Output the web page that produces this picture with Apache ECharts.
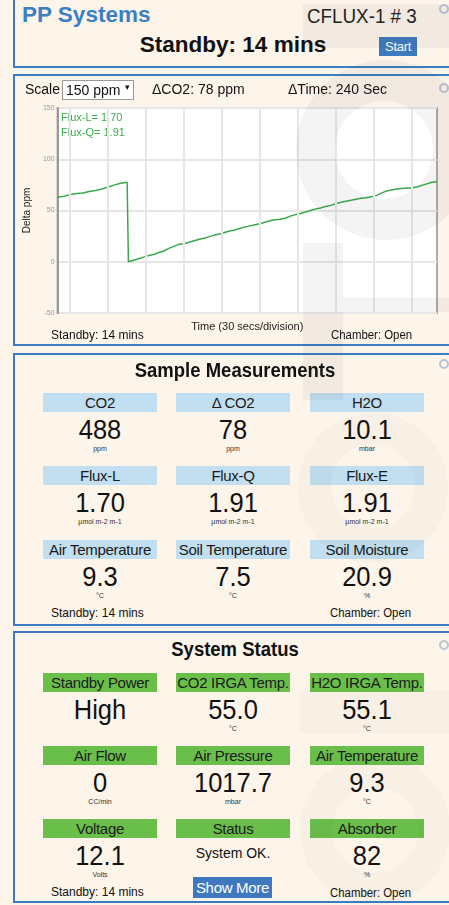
<!DOCTYPE html>
<html>
<head>
<meta charset="utf-8">
<script src="https://cdn.jsdelivr.net/npm/echarts@6.0.0/dist/echarts.min.js"></script>
<style>
  body { margin: 0; width: 449px; height: 905px; overflow: hidden; position: relative;
         background: #fdf4ea; font-family: "Liberation Sans", Arial, sans-serif; color: #111; }
  .panel { position: absolute; left: 13px; width: 470px; border: 2px solid #3d7cc4; box-sizing: border-box; }
  .t { position: absolute; white-space: nowrap; line-height: 1; }
  .ring { position: absolute; width: 6px; height: 6px; border: 2px solid #b9c6d3; border-radius: 50%; }
  .lbl { position: absolute; width: 114px; height: 19px; line-height: 20px; text-align: center; font-size: 15px;
         color: #1a1a1a; white-space: nowrap; letter-spacing: -0.3px; overflow: visible; }
  .btn { position: absolute; background: #3e79bf; color: #fff; text-align: center; white-space: nowrap; }
  #chart { position: absolute; left: 14px; top: 96px; width: 435px; height: 245px; }
  #wm { position: absolute; left: 0; top: 0; pointer-events: none; z-index: 5; }
</style>
</head>
<body>
<div class="panel" style="top:-2px;height:70px"></div>
<div class="panel" style="top:74px;height:272px"></div>
<div class="panel" style="top:353px;height:273px"></div>
<div class="panel" style="top:631px;height:272px"></div>
<div id="chart"></div>
<svg id="wm" width="449" height="905">
  <g fill="rgba(60,60,60,0.06)">
    <rect x="303" y="4" width="146" height="44"/>
    <path fill-rule="evenodd" d="M296 150a90 90 0 1 0 180 0a90 90 0 1 0 -180 0Z M335 150a49 49 0 1 0 98 0a49 49 0 1 0 -98 0Z"/>
    <rect x="303" y="243" width="40" height="157"/>
    <rect x="343" y="298" width="106" height="14"/>
  </g>
  <g fill="rgba(60,60,60,0.025)">
    <path fill-rule="evenodd" d="M298 488a75 75 0 1 0 150 0a75 75 0 1 0 -150 0Z M331 486a42 42 0 1 0 84 0a42 42 0 1 0 -84 0Z"/>
    <rect x="300" y="690" width="149" height="43"/>
    <path fill-rule="evenodd" d="M300 830a75 75 0 1 0 150 0a75 75 0 1 0 -150 0Z M332 830a43 43 0 1 0 86 0a43 43 0 1 0 -86 0Z"/>
  </g>
</svg>
<script>
// 曲线数据（秒 / ppm）
const timeSec = [0, 5, 10, 15, 20, 25, 30, 35, 40, 45, 50, 55, 56,
  60, 64, 68, 72, 76, 80, 84, 88, 92, 96, 100, 104, 108, 112, 116, 120, 124, 128, 132, 136, 140,
  144, 148, 152, 156, 160, 164, 168, 172, 176, 180, 184, 188, 192, 196, 200, 204, 208, 212, 216,
  220, 224, 228, 232, 236, 240, 244, 248, 252, 256, 260, 264, 268, 272, 276, 280, 284, 288, 292, 296, 300];
const deltaPpm = [63, 64, 65.5, 66.5, 67, 68.5, 69.5, 71, 73, 75, 76.5, 77.5, 0,
  1.5, 3, 4.5, 6, 7, 9, 10.5, 13, 15, 17, 17.5, 19, 20.5, 22, 23, 24.5, 26, 27, 28.5, 30, 31,
  32.5, 34, 35, 36, 37, 38.5, 40, 41, 41.5, 42.5, 44.5, 46, 47, 48.5, 50, 51.5, 52.5, 54, 55,
  56.5, 58, 59, 60, 61, 62, 62.5, 63.5, 64.5, 67, 69, 70, 71, 71.5, 72, 72, 73, 74.5, 76, 77.5, 78];
const divisionTimes = [10, 40, 70, 100, 130, 160, 190, 220, 250, 280]; // 30 秒分格
const yTicks = [-50, 0, 50, 100, 150];
const fluxText = ['Flux-L= 1.70', 'Flux-Q= 1.91'];

// 面板数据
const sampleLabels = ['CO2', 'Δ CO2', 'H2O', 'Flux-L', 'Flux-Q', 'Flux-E', 'Air Temperature', 'Soil Temperature', 'Soil Moisture'];
const sampleValues = ['488', '78', '10.1', '1.70', '1.91', '1.91', '9.3', '7.5', '20.9'];
const sampleUnits = ['ppm', 'ppm', 'mbar', 'µmol m-2 m-1', 'µmol m-2 m-1', 'µmol m-2 m-1', '°C', '°C', '%'];
const statusLabels = ['Standby Power', 'CO2 IRGA Temp.', 'H2O IRGA Temp.', 'Air Flow', 'Air Pressure', 'Air Temperature', 'Voltage', 'Status', 'Absorber'];
const statusValues = ['High', '55.0', '55.1', '0', '1017.7', '9.3', '12.1', 'System OK.', '82'];
const statusUnits = ['', '°C', '°C', 'CC/min', 'mbar', '°C', 'Volts', '', '%'];

// 文本放置
function text(str, x, y, css, align, extra) {
  const el = document.createElement('div');
  el.className = 't';
  el.textContent = str;
  el.style.cssText += css || '';
  el.style.left = x + 'px';
  el.style.top = y + 'px';
  el.style.transformOrigin = align === 'left' ? 'left center' : 'center center';
  el.style.transform = (align === 'left' ? 'translate(0,-50%) ' : 'translate(-50%,-50%) ') + (extra || '');
  document.body.appendChild(el);
  return el;
}
function ring(x, y) {
  const el = document.createElement('div');
  el.className = 'ring';
  el.style.left = (x - 5) + 'px';
  el.style.top = (y - 5) + 'px';
  document.body.appendChild(el);
}
function box(cls, x, y, w, h, css) {
  const el = document.createElement('div');
  el.className = cls;
  el.style.cssText = `left:${x}px;top:${y}px;width:${w}px;height:${h}px;` + (css || '');
  document.body.appendChild(el);
  return el;
}

// 顶部
text('PP Systems', 22, 15, 'font-size:22.5px;font-weight:bold;color:#3b7fc4', 'left');
text('CFLUX-1 # 3', 307, 16, 'font-size:20px;color:#222', 'left', 'scaleX(0.94)');
text('Standby: 14 mins', 233, 45, 'font-size:22.5px;font-weight:bold');
const start = box('btn', 379, 37, 38, 19, 'font-size:13px;line-height:19px;letter-spacing:-0.3px');
start.textContent = 'Start';
ring(444, 9);

// 图表面板头部
text('Scale', 25, 89, 'font-size:14px', 'left');
box('t', 62, 80, 70, 18, 'background:#fff;border:1px solid #999');
text('150 ppm', 66, 90, 'font-size:14px', 'left');
text('▾', 127, 87, 'font-size:9px');
text('ΔCO2: 78 ppm', 152, 89, 'font-size:14px', 'left');
text('ΔTime: 240 Sec', 288, 89, 'font-size:14px', 'left');
ring(444, 88);
text('Standby: 14 mins', 51, 335, 'font-size:12px', 'left');
text('Chamber: Open', 331, 335, 'font-size:12px', 'left', 'scaleX(0.95)');

// 数据格
const colX = [43, 176, 310];
function grid(labels, values, units, rowY, color) {
  labels.forEach((l, i) => {
    const c = i % 3, r = Math.floor(i / 3);
    const x = colX[c], y = rowY[r];
    const lb = box('lbl', x, y, 114, 19, 'background:' + color);
    lb.textContent = l;
    const small = values[i] === 'System OK.';
    text(values[i], x + 57, y + (small ? 34 : 37), small ? 'font-size:14px' : 'font-size:25.5px', 'center', 'scaleY(1.05)');
    if (units[i]) text(units[i], x + 57, y + 55, 'font-size:7px;color:#333');
  });
}

ring(444, 364);
text('Sample Measurements', 235, 371, 'font-size:18.5px;font-weight:bold', 'center', 'scaleY(1.12)');
grid(sampleLabels, sampleValues, sampleUnits, [393, 466, 540], '#c1dff0');
text('Standby: 14 mins', 51, 613, 'font-size:12px', 'left');
text('Chamber: Open', 330, 613, 'font-size:12px', 'left', 'scaleX(0.95)');

ring(444, 645);
text('System Status', 235, 650, 'font-size:18.5px;font-weight:bold', 'center', 'scaleY(1.12)');
grid(statusLabels, statusValues, statusUnits, [673, 746, 819], '#6abf4b');
const more = box('btn', 193, 877, 79, 21, 'font-size:15px;line-height:21px;letter-spacing:-0.3px');
more.textContent = 'Show More';
text('Standby: 14 mins', 51, 892, 'font-size:12px', 'left');
text('Chamber: Open', 330, 893, 'font-size:12px', 'left', 'scaleX(0.95)');

// 图表
const chart = echarts.init(document.getElementById('chart'));
chart.setOption({
  animation: false,
  grid: { left: 40, top: 12, width: 383, height: 205, show: true, backgroundColor: '#fff', borderColor: '#aaa', borderWidth: 2 },
  xAxis: {
    type: 'value', min: 0, max: 300,
    name: 'Time (30 secs/division)', nameLocation: 'middle', nameGap: 8,
    nameTextStyle: { fontSize: 11, color: '#222', fontFamily: 'Liberation Sans' },
    axisLine: { show: false }, axisTick: { show: false }, axisLabel: { show: false }, splitLine: { show: false }
  },
  yAxis: {
    type: 'value', min: yTicks[0], max: yTicks[yTicks.length - 1], interval: 50,
    name: 'Delta ppm', nameLocation: 'middle', nameGap: 11, nameRotate: 90,
    nameTextStyle: { fontSize: 10, color: '#222', fontFamily: 'Liberation Sans' },
    axisLine: { show: true, lineStyle: { color: '#999', width: 2 } },
    axisTick: { show: false },
    axisLabel: { fontSize: 7, color: '#999', margin: 3, fontFamily: 'Liberation Sans' },
    splitLine: { lineStyle: { color: '#e6e6e6', width: 2 } }
  },
  graphic: fluxText.map((s, i) => ({
    type: 'text', left: 47, top: 16 + i * 15,
    style: { text: s, fill: '#3aad4a', fontSize: 11, fontFamily: 'Liberation Sans' }
  })),
  series: [{
    type: 'line',
    data: timeSec.map((t, i) => [t, deltaPpm[i]]),
    showSymbol: false,
    lineStyle: { color: '#3aa84a', width: 1.5 },
    markLine: {
      silent: true, symbol: 'none', label: { show: false },
      lineStyle: { color: '#e6e6e6', width: 2, type: 'solid' },
      data: divisionTimes.map(t => ({ xAxis: t }))
    },
    z: 3
  }]
});
</script>
</body>
</html>
